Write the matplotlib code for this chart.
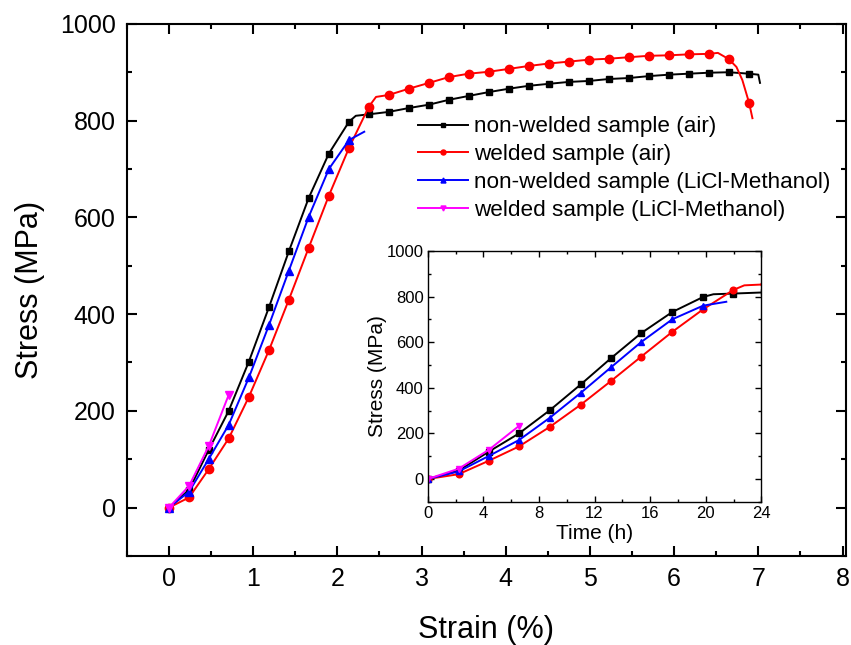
import matplotlib
matplotlib.use("Agg")
import matplotlib.pyplot as plt
from matplotlib.ticker import MultipleLocator
import numpy as np

plt.rcParams['font.family'] = ['Liberation Sans', 'DejaVu Sans']

# strain (%) and stress (MPa)
# non-welded sample (air)
ss_strain = [0, 0.24, 0.475, 0.71, 0.95, 1.19, 1.425, 1.66, 1.90, 2.14, 2.22, 2.375,
             2.61, 2.85, 3.09, 3.325, 3.56, 3.80, 4.04, 4.275, 4.51, 4.75, 4.99,
             5.225, 5.46, 5.70, 5.94, 6.175, 6.41, 6.65, 6.89, 7.0, 7.02]
ss_stress = [0, 37, 120, 200, 302, 415, 530, 640, 732, 798, 810, 813,
             818, 826, 833, 843, 851, 859, 866, 872, 876, 880, 882,
             886, 888, 892, 895, 897, 899, 900, 897, 895, 878]
ss_marks = [0, 1, 2, 3, 4, 5, 6, 7, 8, 9, 11, 12, 13, 14, 15, 16, 17, 18, 19, 20,
            21, 22, 23, 24, 25, 26, 27, 28, 29, 30]

# welded sample (air)
w_strain = [0, 0.24, 0.475, 0.71, 0.95, 1.19, 1.425, 1.66, 1.90, 2.14, 2.375, 2.46,
            2.61, 2.85, 3.09, 3.325, 3.56, 3.80, 4.04, 4.275, 4.51, 4.75, 4.99,
            5.225, 5.46, 5.70, 5.94, 6.175, 6.41, 6.52, 6.65, 6.74, 6.81, 6.89, 6.93]
w_stress = [0, 21, 80, 143, 229, 326, 430, 537, 645, 744, 829, 849,
            853, 866, 878, 890, 897, 901, 907, 913, 918, 922, 926,
            928, 931, 934, 935, 937, 938, 940, 927, 911, 884, 837, 805]
w_marks = [0, 1, 2, 3, 4, 5, 6, 7, 8, 9, 10, 12, 13, 14, 15, 16, 17, 18, 19, 20,
           21, 22, 23, 24, 25, 26, 27, 28, 30, 33]

# non-welded sample (LiCl-Methanol)
nl_strain = [0, 0.24, 0.475, 0.71, 0.95, 1.19, 1.425, 1.66, 1.90, 2.14, 2.32]
nl_stress = [0, 33, 101, 171, 269, 378, 490, 601, 700, 760, 777]
nl_marks = [0, 1, 2, 3, 4, 5, 6, 7, 8, 9]

# welded sample (LiCl-Methanol)
wl_strain = [0, 0.24, 0.475, 0.71]
wl_stress = [0, 45, 128, 233]

strain_rate = 0.108  # % per hour, links inset time axis to strain

series = [
    (ss_strain, ss_stress, ss_marks, 'black', 's', 5, 'non-welded sample (air)'),
    (w_strain, w_stress, w_marks, 'red', 'o', 6, 'welded sample (air)'),
    (nl_strain, nl_stress, nl_marks, 'blue', '^', 6, 'non-welded sample (LiCl-Methanol)'),
    (wl_strain, wl_stress, None, 'magenta', 'v', 6, 'welded sample (LiCl-Methanol)'),
]

fig = plt.figure(figsize=(8.51, 6.45), dpi=100)
ax = fig.add_axes([0.149, 0.138, 0.845, 0.825])

for x, y, mk, c, m, ms, lab in series:
    ax.plot(x, y, color=c, marker=m, markersize=ms, markevery=mk, lw=1.4, label=lab)

ax.set_xlim(-0.5, 8.04)
ax.set_ylim(-100, 1000)
ax.xaxis.set_major_locator(MultipleLocator(1))
ax.xaxis.set_minor_locator(MultipleLocator(0.5))
ax.yaxis.set_major_locator(MultipleLocator(200))
ax.yaxis.set_minor_locator(MultipleLocator(100))
ax.tick_params(which='both', direction='in', top=True, right=True, width=1.5)
ax.tick_params(which='major', length=7, labelsize=18, pad=8)
ax.tick_params(which='minor', length=3.5)
for s in ax.spines.values():
    s.set_linewidth(1.5)
ax.set_xlabel('Strain (%)', fontsize=22, labelpad=17)
ax.set_ylabel('Stress (MPa)', fontsize=22, labelpad=11)

ax.legend(loc='upper left', bbox_to_anchor=(0.405, 0.826), frameon=False,
          fontsize=16.2, labelspacing=0.3, handlelength=2.2, handletextpad=0.3,
          borderpad=0, borderaxespad=0, markerscale=0.6)

# inset: same curves against time
ins = fig.add_axes([0.5026, 0.222, 0.392, 0.389])
for x, y, mk, c, m, ms, lab in series:
    t = np.array(x) / strain_rate
    ins.plot(t, y, color=c, marker=m, markersize=ms * 0.8, markevery=mk, lw=1.4)
ins.set_xlim(0, 24)
ins.set_ylim(-100, 1000)
ins.xaxis.set_major_locator(MultipleLocator(4))
ins.xaxis.set_minor_locator(MultipleLocator(2))
ins.yaxis.set_major_locator(MultipleLocator(200))
ins.yaxis.set_minor_locator(MultipleLocator(100))
ins.tick_params(which='both', direction='in', top=True, right=True, width=1)
ins.tick_params(which='major', length=4, labelsize=12, pad=3)
ins.tick_params(which='minor', length=2)
for s in ins.spines.values():
    s.set_linewidth(1)
ins.set_xlabel('Time (h)', fontsize=15, labelpad=2)
ins.set_ylabel('Stress (MPa)', fontsize=15, labelpad=0)

fig.savefig('out.png', dpi=100)
